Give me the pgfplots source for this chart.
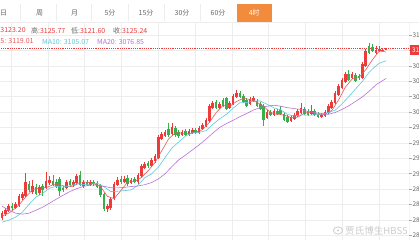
\documentclass[border=0pt]{standalone}
\usepackage{pgfplots}
\usepackage{pgfplotstable}
\pgfplotsset{compat=1.18}
\usepackage{fontspec}
\setmainfont{Noto Sans CJK SC}
\definecolor{cRed}{HTML}{EC3B3B}
\definecolor{cGreen}{HTML}{36B04A}
\definecolor{cMAf}{HTML}{E8575A}
\definecolor{cMAt}{HTML}{5BC8DE}
\definecolor{cMAw}{HTML}{B870D8}
\definecolor{cGrid}{HTML}{EDEDED}
\definecolor{cAxis}{HTML}{A8A8A8}
\definecolor{cText}{HTML}{666666}
\definecolor{cTab}{HTML}{F28C3C}

\pgfplotstableread{
i o h l c
0 2853.2 2864.4 2850.0 2861.2
1 2859.6 2869.2 2856.4 2866.0
2 2864.4 2875.6 2862.8 2872.4
4 2869.2 2878.8 2867.6 2875.6
5 2874.0 2891.6 2870.8 2888.4
6 2885.2 2894.8 2882.0 2891.6
7 2888.4 2925.2 2886.8 2910.8
9 2894.8 2914.0 2891.6 2904.4
11 2893.2 2906.0 2890.0 2902.8
13 2901.2 2926.8 2899.6 2912.4
14 2909.2 2920.4 2906.0 2914.0
19 2901.2 2914.0 2899.6 2910.8
21 2906.0 2914.0 2902.8 2910.8
22 2909.2 2923.6 2906.0 2920.4
24 2904.4 2914.0 2901.2 2910.8
26 2906.0 2914.0 2904.4 2910.8
31 2867.6 2875.6 2862.8 2872.4
32 2869.2 2886.8 2866.0 2883.6
33 2885.2 2910.8 2882.0 2907.6
34 2906.0 2918.8 2904.4 2914.0
36 2910.8 2920.4 2909.2 2915.6
38 2909.2 2917.2 2907.6 2914.0
40 2910.8 2925.2 2907.6 2922.0
41 2920.4 2939.6 2917.2 2936.4
42 2933.2 2942.8 2931.6 2939.6
44 2936.4 2949.2 2934.8 2946.0
45 2944.4 2955.6 2941.2 2952.4
46 2949.2 2986.0 2947.6 2982.8
47 2979.6 2990.8 2978.0 2987.6
48 2984.4 2994.0 2982.8 2990.8
50 2987.6 3005.2 2986.0 2998.8
53 2986.0 2994.0 2984.4 2990.8
55 2986.0 2995.6 2984.4 2992.4
56 2989.2 2997.2 2987.6 2994.0
58 2989.2 3000.4 2987.6 2997.2
59 2995.6 3005.2 2994.0 3002.0
60 3000.4 3013.2 2998.8 3010.0
61 3008.4 3035.6 3006.8 3032.4
62 3029.2 3040.4 3027.6 3037.2
64 3029.2 3038.8 3027.6 3035.6
67 3029.2 3040.4 3027.6 3037.2
68 3035.6 3051.6 3034.0 3048.4
69 3046.8 3058.0 3045.2 3053.2
73 3035.6 3046.8 3034.0 3043.6
74 3040.4 3048.4 3038.8 3045.2
78 3013.2 3026.0 3011.6 3022.8
80 3018.0 3027.6 3016.4 3024.4
85 3008.4 3018.0 3006.8 3014.8
86 3011.6 3021.2 3010.0 3018.0
87 3016.4 3027.6 3014.8 3024.4
88 3021.2 3037.2 3019.6 3029.2
91 3019.6 3034.0 3018.0 3024.4
94 3014.8 3021.2 3013.2 3018.0
95 3016.4 3026.0 3014.8 3022.8
96 3021.2 3035.6 3019.6 3032.4
97 3029.2 3042.0 3027.6 3038.8
98 3037.2 3056.4 3035.6 3053.2
99 3050.0 3067.6 3048.4 3064.4
100 3061.2 3077.2 3059.6 3074.0
101 3070.8 3086.8 3069.2 3083.6
103 3077.2 3086.8 3075.6 3083.6
106 3077.2 3102.8 3075.6 3099.6
107 3096.4 3123.6 3094.8 3120.4
110 3117.2 3128.4 3115.6 3122.0
111 3120.4 3128.4 3118.8 3123.6
112 3121.0 3125.5 3120.0 3123.0
113 3123.20 3125.77 3121.60 3125.24
}\upT

\pgfplotstableread{
i o h l c
3 2872.4 2877.2 2866.0 2869.2
8 2907.6 2912.4 2894.8 2898.0
10 2902.8 2907.6 2890.0 2891.6
12 2904.4 2907.6 2888.4 2898.0
15 2912.4 2922.0 2904.4 2906.0
16 2910.8 2915.6 2901.2 2904.4
17 2915.6 2918.8 2888.4 2896.4
18 2901.2 2904.4 2894.8 2898.0
20 2912.4 2915.6 2902.8 2906.0
23 2922.0 2928.4 2904.4 2906.0
25 2910.8 2914.0 2904.4 2906.0
27 2910.8 2914.0 2904.4 2907.6
28 2909.2 2912.4 2901.2 2902.8
29 2904.4 2907.6 2886.8 2890.0
30 2891.6 2893.2 2864.4 2867.6
35 2915.6 2920.4 2907.6 2910.8
37 2917.2 2922.0 2904.4 2907.6
39 2915.6 2918.8 2909.2 2910.8
43 2941.2 2944.4 2933.2 2936.4
49 2995.6 3005.2 2982.8 2986.0
51 2997.2 3000.4 2982.8 2986.0
52 2990.8 2994.0 2981.2 2984.4
54 2992.4 2995.6 2984.4 2986.0
57 2994.0 2997.2 2987.6 2989.2
63 3038.8 3042.0 3027.6 3029.2
65 3042.0 3045.2 3030.8 3032.4
66 3045.2 3046.8 3026.0 3027.6
70 3053.2 3056.4 3045.2 3046.8
71 3048.4 3051.6 3037.2 3038.8
72 3042.0 3045.2 3030.8 3032.4
75 3040.4 3043.6 3030.8 3032.4
76 3035.6 3038.8 3026.0 3027.6
77 3032.4 3035.6 3000.4 3010.0
79 3022.8 3026.0 3016.4 3018.0
81 3024.4 3027.6 3018.0 3019.6
82 3026.0 3032.4 3018.0 3019.6
83 3019.6 3022.8 3008.4 3010.0
84 3014.8 3018.0 3005.2 3006.8
89 3027.6 3030.8 3018.0 3019.6
90 3024.4 3027.6 3016.4 3018.0
92 3024.4 3027.6 3016.4 3018.0
93 3019.6 3022.8 3013.2 3014.8
102 3083.6 3090.0 3072.4 3074.0
104 3082.0 3085.2 3070.8 3072.4
105 3080.4 3083.6 3074.0 3077.2
108 3128.4 3133.2 3115.6 3117.2
109 3126.8 3131.6 3118.8 3120.4
}\downT

\begin{document}
\begin{tikzpicture}[x=1bp,y=1bp]
\begin{axis}[
  at={(0,-5)}, anchor=south west, scale only axis,
  width=409bp, height=221bp,
  xmin=-0.588, xmax=119.71, ymin=2813.24, ymax=3166.84,
  axis line style={draw=none},
  xtick={2.65,13.47,24.29,35.12,45.94,56.76,67.59,78.41,89.24,100.06,110.88},
  xticklabels={}, xtick style={draw=none},
  ytick={3146.04,3121.40,3096.76,3072.12,3047.48,3022.84,2998.20,2973.56,2948.92,2924.28,2899.64,2875.00,2850.36,2825.72},
  yticklabels={31,31,30,30,30,30,29,29,29,29,28,28,28,28},
  ytick pos=right, yticklabel pos=right, tick align=outside, major tick length=3bp,
  ytick style={draw=cAxis, line width=0.5bp},
  grid=major, grid style={cGrid, line width=0.5bp},
  yticklabel style={font=\fontsize{6.5}{7}\selectfont, text=cText, inner sep=0pt, xshift=0.3bp},
  clip=true,
]
% current price line
\addplot[cRed, line width=0.5bp, dash pattern=on 1.2bp off 1bp, forget plot] coordinates {(-1,3125.24) (121,3125.24)};
% wicks
\addplot[draw=none, mark=none, forget plot, error bars/.cd, y dir=both, y explicit, error mark=none,
  error bar style={line width=0.6bp, draw=cRed}]
  table[x=i, y expr={(\thisrow{h}+\thisrow{l})/2}, y error expr={(\thisrow{h}-\thisrow{l})/2}] {\upT};
\addplot[draw=none, mark=none, forget plot, error bars/.cd, y dir=both, y explicit, error mark=none,
  error bar style={line width=0.6bp, draw=cGreen}]
  table[x=i, y expr={(\thisrow{h}+\thisrow{l})/2}, y error expr={(\thisrow{h}-\thisrow{l})/2}] {\downT};
% bodies
\addplot[draw=none, mark=none, forget plot, error bars/.cd, y dir=both, y explicit, error mark=none,
  error bar style={line width=2.6bp, draw=cRed}]
  table[x=i, y expr={(\thisrow{o}+\thisrow{c})/2}, y error expr={max(abs(\thisrow{c}-\thisrow{o})/2,0.4)}] {\upT};
\addplot[draw=none, mark=none, forget plot, error bars/.cd, y dir=both, y explicit, error mark=none,
  error bar style={line width=2.6bp, draw=cGreen}]
  table[x=i, y expr={(\thisrow{o}+\thisrow{c})/2}, y error expr={max(abs(\thisrow{c}-\thisrow{o})/2,0.4)}] {\downT};
% MA5
\addplot[cMAf, line width=0.6bp, mark=none] coordinates {
(0,2856.4) (2,2861.2) (4,2869.2) (5,2874.4) (7,2887.2) (9,2898.7) (11,2901.6) (13,2901.9)
(15,2906.7) (17,2906.7) (19,2903.2) (21,2904.4) (23,2910.8) (25,2910.8) (27,2908.3) (29,2903.5)
(31,2888.1) (33,2884.3) (35,2897.7) (37,2911.2) (39,2911.8) (41,2918.2) (43,2929.1) (45,2942.2)
(47,2961.1) (49,2980.0) (51,2989.9) (53,2989.2) (55,2988.0) (57,2990.5) (59,2995.0) (61,3006.2)
(63,3022.2) (65,3033.4) (67,3032.4) (69,3039.8) (71,3044.9) (73,3043.0) (75,3038.5) (77,3031.8)
(79,3022.2) (81,3019.0) (83,3018.4) (85,3014.2) (87,3014.8) (89,3021.2) (91,3023.2) (93,3019.0)
(95,3019.6) (97,3025.4) (99,3042.4) (101,3062.8) (103,3076.0) (105,3078.2) (107,3090.7) (109,3107.0)
(111,3120.8) (113,3119.01)};
% MA10
\addplot[cMAt, line width=0.6bp, mark=none] coordinates {
(0,2846.8) (2,2850.0) (4,2854.8) (6,2862.8) (8,2875.6) (10,2886.8) (12,2893.1) (14,2901.2)
(16,2904.3) (18,2902.8) (20,2904.9) (22,2908.0) (24,2907.0) (26,2907.6) (28,2909.2) (30,2903.3)
(32,2895.8) (34,2896.3) (36,2897.2) (38,2898.4) (40,2905.9) (42,2917.9) (44,2924.0) (46,2934.8)
(48,2950.5) (50,2965.7) (52,2975.2) (54,2984.6) (56,2989.7) (58,2990.5) (60,2993.2) (62,3003.2)
(64,3012.0) (66,3019.3) (68,3029.2) (70,3038.0) (72,3038.2) (74,3040.6) (76,3040.6) (78,3035.3)
(80,3029.6) (82,3026.4) (84,3019.2) (86,3016.4) (88,3018.5) (90,3018.0) (92,3018.4) (94,3020.0)
(96,3022.2) (98,3026.0) (100,3036.1) (102,3047.6) (104,3060.0) (106,3072.1) (108,3086.7) (110,3097.1)
(111,3101.1) (113,3105.07)};
% MA20
\addplot[cMAw, line width=0.6bp, mark=none] coordinates {
(0,2872.4) (2,2866.0) (4,2861.2) (6,2859.6) (8,2861.2) (10,2866.0) (12,2870.8) (14,2877.2)
(16,2883.6) (18,2890.0) (20,2895.9) (22,2900.5) (24,2904.1) (26,2906.0) (28,2906.0) (30,2904.1)
(32,2901.9) (34,2901.6) (36,2902.4) (38,2903.8) (40,2904.6) (42,2906.8) (44,2910.1) (46,2916.0)
(48,2924.4) (50,2935.8) (52,2946.5) (54,2954.3) (56,2962.3) (58,2970.5) (60,2979.5) (62,2989.2)
(64,2998.3) (66,3004.5) (68,3009.9) (70,3015.6) (72,3020.7) (74,3026.3) (76,3030.0) (78,3032.3)
(80,3033.8) (82,3032.3) (84,3029.9) (86,3028.5) (88,3026.9) (90,3023.8) (92,3022.4) (94,3019.6)
(96,3019.3) (98,3022.3) (100,3027.1) (102,3033.0) (104,3040.0) (106,3047.2) (108,3056.4) (110,3066.6)
(113,3076.85)};
% right axis line
\draw[cAxis, line width=0.6bp] (rel axis cs:1,0) -- (rel axis cs:1,1);
\end{axis}
% current price tag
\fill[cRed] (409.6,185) rectangle (419,195);
\node[text=white, anchor=west, inner sep=0pt, font=\fontsize{6.5}{7}\selectfont] at (411.8,190) {31};
% tab bar
\draw[cGrid, line width=0.5bp] (0,217.5) -- (419,217.5);
\foreach \x in {20.7,56.7,91.7,128.3,164,200} {\draw[cGrid, line width=0.6bp] (\x,219) -- (\x,236);}
\fill[cTab] (236.7,218) rectangle (271.7,236);
\begin{scope}[every node/.style={font=\fontsize{7}{8}\selectfont, text=cText, inner sep=0pt}]
\node at (3.6,227) {日};
\node at (39.5,227) {周};
\node at (74.5,227) {月};
\node at (110,227) {5分};
\node at (146,227) {15分};
\node at (182,227) {30分};
\node at (218,227) {60分};
\node[text=white] at (254.2,227) {4时};
\end{scope}
% info lines
\begin{scope}[every node/.style={font=\fontsize{7}{8}\selectfont, inner sep=0pt}]
\node[anchor=west] at (0.3,209.5) {\textcolor{cRed}{3123.20}};
\node[anchor=west] at (31,209.5) {\textcolor{cText}{高:}\textcolor{cRed}{3125.77}};
\node[anchor=west] at (71,209.5) {\textcolor{cText}{低:}\textcolor{cRed}{3121.60}};
\node[anchor=west] at (113,209.5) {\textcolor{cText}{收:}\textcolor{cRed}{3125.24}};
\node[anchor=west, text=cMAf] at (0.3,198.5) {5: 3119.01};
\node[anchor=west, text=cMAt] at (42,198.5) {MA10: 3105.07};
\node[anchor=west, text=cMAw] at (97,198.5) {MA20: 3076.85};
\end{scope}
% watermark
\draw[gray!40, line width=0.8bp] (338,9.5) ellipse (4.6 and 3.6);
\fill[gray!40] (338,9.5) circle (1.2);
\node[anchor=west, inner sep=0pt, text=gray!40, font=\fontsize{9.6}{10}\selectfont] at (345,9.5) {贾氏博生HBS5};
\pgfresetboundingbox
\useasboundingbox (0,0) rectangle (419,240);
\end{tikzpicture}
\end{document}
